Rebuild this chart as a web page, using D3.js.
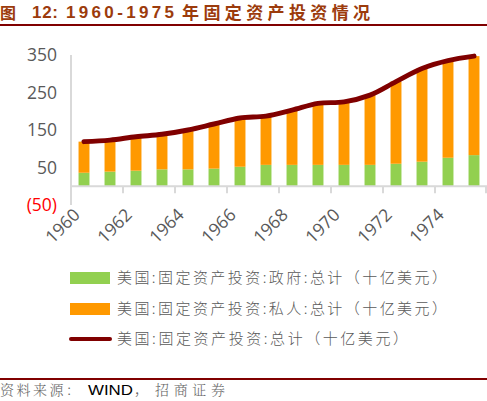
<!DOCTYPE html>
<html><head><meta charset="utf-8">
<script src="https://cdn.jsdelivr.net/npm/d3@7"></script>
<style>
html,body{margin:0;padding:0;background:#fff;}
svg{display:block;}
</style></head>
<body>
<div id="chart"></div>
<script>
const years = ["1960","1961","1962","1963","1964","1965","1966","1967","1968","1969","1970","1971","1972","1973","1974","1975"];
const government = [36, 39, 41.5, 45, 45, 47, 52, 57, 57, 57, 57, 57, 60, 65.5, 76, 83];
const total = [119, 123, 132, 138.5, 150, 166, 182, 187, 203, 221, 225, 243, 279, 314, 335, 347];
const privateInv = total.map((t,i)=>t-government[i]);
const yTicks = [350, 250, 150, 50, -50];
const xLabelYears = ["1960","1962","1964","1966","1968","1970","1972","1974"];
const seriesNames = ["美国:固定资产投资:政府:总计（十亿美元）","美国:固定资产投资:私人:总计（十亿美元）","美国:固定资产投资:总计（十亿美元）"];
const titleText = ["图","12:","1960-1975","年固定资产投资情况"];

const W=487,H=401;
const svg=d3.select("#chart").append("svg").attr("width",W).attr("height",H);

// Title
const tg=svg.append("g").attr("font-weight","bold").attr("fill","#9c3b0c");
tg.append("text").attr("x",0).attr("y",19).attr("font-family","Noto Sans CJK SC").attr("font-size",16).text(titleText[0]);
tg.append("text").attr("x",32).attr("y",18).attr("font-family","Liberation Sans, Arial").attr("font-size",17).attr("textLength",26).attr("lengthAdjust","spacing").text(titleText[1]);
tg.append("text").attr("x",66).attr("y",18).attr("font-family","Liberation Sans, Arial").attr("font-size",17).attr("textLength",108).attr("lengthAdjust","spacing").text(titleText[2]);
tg.append("text").attr("x",182).attr("y",19).attr("font-family","Noto Sans CJK SC").attr("font-size",17).attr("textLength",188).attr("lengthAdjust","spacing").text(titleText[3]);
svg.append("rect").attr("x",0).attr("y",24).attr("width",W).attr("height",2).attr("fill","#800000");

// Scales
const x=d3.scaleBand().domain(years).range([71,487]).paddingInner(0.58).paddingOuter(0.29);
const y=d3.scaleLinear().domain([-50,350]).range([205,55]);
const step=x.step();

// Axes
const axisColor="#d9d9d9";
svg.append("line").attr("x1",71).attr("x2",71).attr("y1",y(350)).attr("y2",y(-50)).attr("stroke",axisColor).attr("stroke-width",2);

// Y labels
svg.append("g").selectAll("text").data(yTicks).join("text")
  .attr("x",57).attr("y",d=>y(d)).attr("dy","0.35em").attr("text-anchor","end")
  .attr("font-family","Open Sans, DejaVu Sans").attr("font-size",17.5)
  .attr("fill",d=>d<0?"#ff0000":"#595959")
  .text(d=>d<0?"("+Math.abs(d)+")":d);

// Bars
const bars=svg.append("g");
bars.selectAll("rect.g").data(years).join("rect").attr("class","g")
  .attr("x",d=>x(d)).attr("width",x.bandwidth())
  .attr("y",(d,i)=>y(government[i])).attr("height",(d,i)=>y(0)-y(government[i]))
  .attr("fill","#92d050");
bars.selectAll("rect.p").data(years).join("rect").attr("class","p")
  .attr("x",d=>x(d)).attr("width",x.bandwidth())
  .attr("y",(d,i)=>y(government[i]+privateInv[i])).attr("height",(d,i)=>y(government[i])-y(government[i]+privateInv[i]))
  .attr("fill","#ff9900");

// X axis line and ticks
svg.append("line").attr("x1",71).attr("x2",487).attr("y1",y(0)).attr("y2",y(0)).attr("stroke",axisColor).attr("stroke-width",2);
const tickPos=d3.range(2,17,2).map(k=>x.range()[0]+k*step);
svg.append("g").selectAll("line").data(tickPos).join("line")
  .attr("x1",d=>Math.min(d,486)).attr("x2",d=>Math.min(d,486)).attr("y1",y(0)).attr("y2",y(0)+7)
  .attr("stroke",axisColor).attr("stroke-width",2);

// X labels
svg.append("g").selectAll("text").data(xLabelYears).join("text")
  .attr("transform",d=>`translate(${x(d)+x.bandwidth()/2-3},${216}) rotate(-45)`)
  .attr("text-anchor","end")
  .attr("font-family","Open Sans, DejaVu Sans").attr("font-size",17.5).attr("fill","#595959")
  .text(d=>d);

// Total line
const line=d3.line().x((d,i)=>x(years[i])+x.bandwidth()/2).y(d=>y(d)).curve(d3.curveCatmullRom.alpha(0.5));
svg.append("path").attr("d",line(total)).attr("fill","none").attr("stroke","#800000").attr("stroke-width",5).attr("stroke-linecap","round");

// Legend
const lg=svg.append("g");
const ly=[278,309,339];
lg.append("rect").attr("x",70).attr("y",ly[0]-6).attr("width",40).attr("height",12).attr("fill","#92d050");
lg.append("rect").attr("x",70).attr("y",ly[1]-6).attr("width",40).attr("height",12).attr("fill","#ff9900");
lg.append("line").attr("x1",71).attr("x2",110).attr("y1",ly[2]).attr("y2",ly[2]).attr("stroke","#800000").attr("stroke-width",4).attr("stroke-linecap","round");
const lens=[330,330,291];
lg.selectAll("text").data(seriesNames).join("text")
  .attr("x",117).attr("y",(d,i)=>ly[i]).attr("dy","0.36em")
  .attr("font-family","Noto Sans CJK SC").attr("font-weight",300).attr("font-size",15).attr("fill","#595959")
  .attr("textLength",(d,i)=>lens[i]).attr("lengthAdjust","spacing")
  .text(d=>d);

// Source
svg.append("rect").attr("x",0).attr("y",378).attr("width",W).attr("height",2).attr("fill","#800000");
const sg=svg.append("g");
sg.append("text").attr("x",0).attr("y",395).attr("font-family","Noto Serif CJK SC, Noto Sans CJK SC").attr("font-weight",300).attr("font-size",14).attr("fill","#666").attr("textLength",80).attr("lengthAdjust","spacing").text("资料来源：");
sg.append("text").attr("x",88).attr("y",395).attr("font-family","Liberation Sans, Arial").attr("font-size",15).attr("fill","#000").attr("textLength",45).attr("lengthAdjust","spacingAndGlyphs").text("WIND");
sg.append("text").attr("x",134).attr("y",395).attr("font-family","Noto Sans CJK SC").attr("font-weight",300).attr("font-size",14).attr("fill","#666").text("，");
sg.append("text").attr("x",155).attr("y",395).attr("font-family","Noto Serif CJK SC, Noto Sans CJK SC").attr("font-weight",300).attr("font-size",14).attr("fill","#666").attr("textLength",70).attr("lengthAdjust","spacing").text("招商证券");
</script>
</body></html>
